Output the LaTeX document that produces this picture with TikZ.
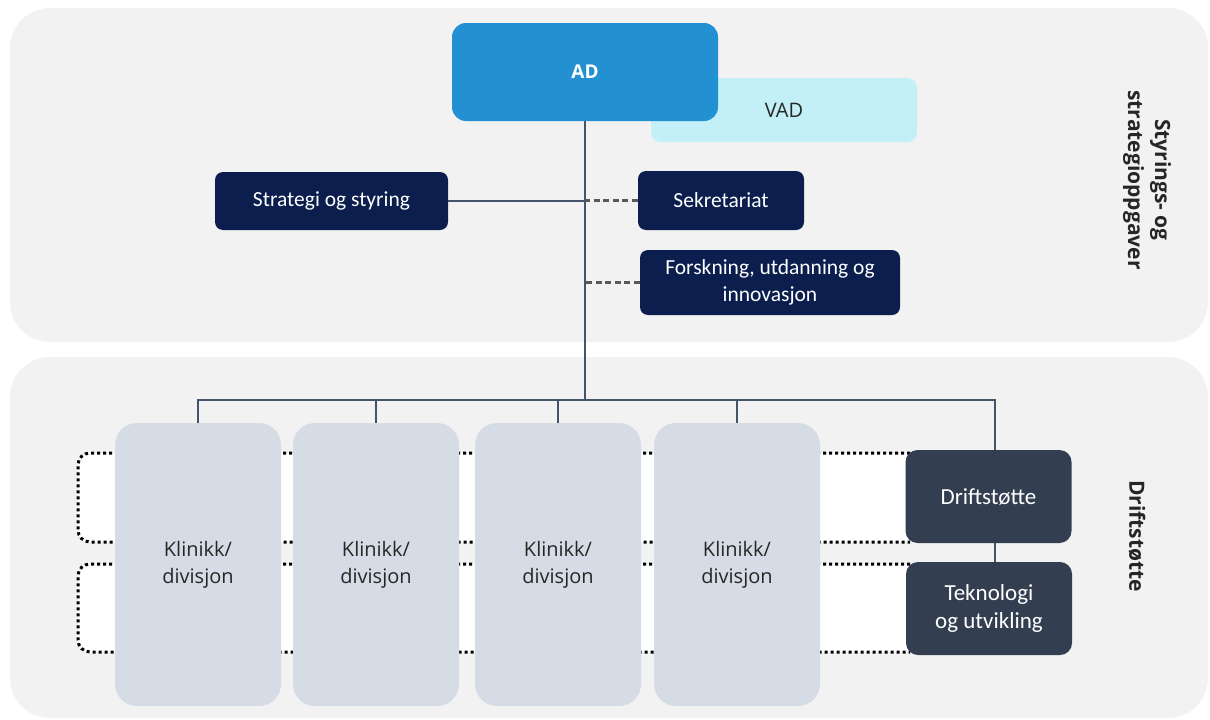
\documentclass[tikz,border=0pt]{standalone}
\usepackage{fontspec}
\setmainfont{Carlito}
\newfontfamily\osans{Open Sans}
\begin{document}
\begin{tikzpicture}[x=1pt,y=-1pt,
  panel/.style={fill=panelgrey, rounded corners=40pt, inner sep=0pt},
  navybox/.style={fill=navy, rounded corners=8pt, text=white, align=center,
    font=\fontsize{21.5}{27}\selectfont, inner sep=0pt},
  klinikk/.style={fill=klgrey, rounded corners=22pt, minimum width=166pt, minimum height=283pt,
    text=black!85, align=center, font=\osans\fontsize{20}{27}\selectfont, inner sep=0pt},
  darkbox/.style={fill=slate, rounded corners=12pt, minimum width=166pt, minimum height=93pt,
    text=white, align=center, font=\fontsize{23}{28}\selectfont, inner sep=0pt},
  sidelabel/.style={rotate=-90, align=center, text=black!85,
    font=\osans\bfseries\fontsize{21}{27}\selectfont},
  orgline/.style={draw=linegrey, line width=2pt},
  dashline/.style={draw=dashgrey, line width=2.2pt, dash pattern=on 6pt off 3.5pt},
  dotframe/.style={draw=black, fill=white, line width=3pt,
    dash pattern=on 3pt off 3pt, rounded corners=12pt}
]
\definecolor{panelgrey}{HTML}{F2F2F2}
\definecolor{navy}{HTML}{0B1E4D}
\definecolor{klgrey}{HTML}{D6DCE5}
\definecolor{slate}{HTML}{333F50}
\definecolor{adblue}{HTML}{2390D2}
\definecolor{vadcyan}{HTML}{C3F0F6}
\definecolor{linegrey}{HTML}{44546A}
\definecolor{dashgrey}{HTML}{595959}

\useasboundingbox (0,0) rectangle (1210,720);
\fill[white] (0,0) rectangle (1210,720);

% two background bands
\node[panel, minimum width=1198pt, minimum height=334pt] (toppanel) at (609,175) {};
\node[panel, minimum width=1198pt, minimum height=361pt] (botpanel) at (609,537.5) {};

% dotted frames behind the clinics
\draw[dotframe] (910,453) -- (78,453) -- (78,542) -- (910,542);
\draw[dotframe] (910,564) -- (78,564) -- (78,652) -- (910,652);

% top management
\node[fill=vadcyan, rounded corners=10pt, minimum width=266pt, minimum height=64pt,
  text=black!85, font=\osans\fontsize{20}{24}\selectfont] (vad) at (784,110) {VAD};
\node[fill=adblue, rounded corners=14pt, minimum width=266pt, minimum height=98pt,
  text=white, font=\osans\bfseries\fontsize{19}{22}\selectfont] (ad) at (585,72) {AD};

\node[navybox, minimum width=233pt, minimum height=58pt] (strat) at (331.5,201) {Strategi og styring};
\node[navybox, minimum width=166pt, minimum height=59pt] (sek) at (721,200.5) {Sekretariat};
\node[navybox, minimum width=260pt, minimum height=65pt] (fou) at (770,282.5)
  {Forskning, utdanning og\\innovasjon};

% clinics and support units
\node[klinikk] (k1) at (198,564.5) {Klinikk/\\divisjon};
\node[klinikk] (k2) at (376,564.5) {Klinikk/\\divisjon};
\node[klinikk] (k3) at (558,564.5) {Klinikk/\\divisjon};
\node[klinikk] (k4) at (737,564.5) {Klinikk/\\divisjon};
\node[darkbox] (drift) at (988.5,496.5) {Driftstøtte};
\node[darkbox] (tek) at (989,608.5) {Teknologi\\og utvikling};

% band labels
\node[sidelabel] (lbltop) at (1147,180) {Styrings- og\\strategioppgaver};
\node[sidelabel] (lblbot) at (1137,536) {Driftstøtte};

% connectors
\coordinate (hub) at (585,400);
\draw[orgline] (ad.south) -- (hub);
\draw[orgline] (strat.east) -- (strat.east -| ad.south);
\draw[dashline] (sek.west) -- (sek.west -| ad.south);
\draw[dashline] (fou.west) -- (fou.west -| ad.south);
\draw[orgline] (hub) -| (k1.north);
\draw[orgline] (hub) -| (k2.north);
\draw[orgline] (hub) -| (k3.north);
\draw[orgline] (hub) -| (k4.north);
\draw[orgline] (hub) -| ([xshift=6.5pt]drift.north);
\draw[orgline] ([xshift=6.5pt]drift.south) -- ([xshift=6pt]tek.north);
\end{tikzpicture}
\end{document}
